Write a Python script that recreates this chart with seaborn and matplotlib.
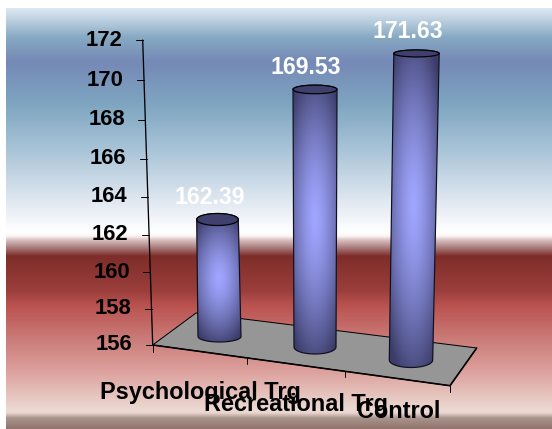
#!/usr/bin/env python3

import numpy as np
import pandas as pd
import seaborn as sns
import matplotlib.pyplot as plt
from matplotlib.colors import to_rgb
from matplotlib.patches import Polygon
from matplotlib.path import Path
from matplotlib.patches import PathPatch

sns.set_theme(style="white")
plt.rcParams["font.family"] = ["Liberation Sans", "DejaVu Sans"]
plt.rcParams["font.weight"] = "bold"

W, H = 552, 429
PX = 72 / 100  # points per pixel at dpi 100

categories = ["Psychological Trg", "Recreational Trg", "Control"]
scores = [162.39, 169.53, 171.63]
y_ticks = [156, 158, 160, 162, 164, 166, 168, 170, 172]

# page gradient, pixel row -> colour
bg_rows = [8, 20, 38, 62, 105, 150, 200, 232, 236, 240, 248, 256, 290, 306, 340, 370, 410, 413, 418, 429]
bg_cols = ["#deeaf4", "#bcd0e0", "#86a8c2", "#7589b6", "#7fa6c1", "#a9c4d8", "#dfe7f0", "#ffffff",
           "#fbf6f6", "#d8c0c0", "#a87878", "#7e2d2a", "#9a3e3b", "#ba5350", "#cb7d7a", "#dc9f9b",
           "#ecdad3", "#e8d4cd", "#a9948c", "#8f736c"]

# per-bar perspective tweaks in pixels (top and bottom of each cylinder)
top_dy = [-8, 0, 6]
top_dx = [-0.5, -0.5, 3.5]
top_hw = [20.8, 22, 22.7]
top_ry = [6, 4.3, 3.5]
bot_y = [336.5, 347, 360]
bot_dx = [1.5, -0.5, -2]
bot_hw = [21.5, 21, 21.7]
bot_ry = [5.5, 7, 7.5]
label_xy = [(210, 197), (306, 67), (408, 31)]
cat_xy = [(100, 392), (204, 404), (357, 412)]
tick_fracs = [0.316, 0.648, 1.0]

floor = [(152.7, 345), (196, 313), (476.7, 348), (450, 385.7)]

A, B = 17.94, 0.0703


def fwd(v):
    d = np.asarray(v, dtype=float) - 156
    return A * d + B * d * d


def inv(p):
    p = np.asarray(p, dtype=float)
    return 156 + (-A + np.sqrt(np.maximum(A * A + 4 * B * p, 0))) / (2 * B)


fig = plt.figure(figsize=(W / 100, H / 100), dpi=100, facecolor="white")
bg = fig.add_axes([0, 0, 1, 1])
bg.set_xlim(0, W)
bg.set_ylim(H, 0)
bg.axis("off")

rows = np.arange(8, H) + 0.5
rgb = np.array([to_rgb(c) for c in bg_cols])
grad = np.stack([np.interp(rows, bg_rows, rgb[:, i]) for i in range(3)], axis=1)[:, None, :]
bg.imshow(grad, extent=(6, W, H, 8), aspect="auto", interpolation="nearest", zorder=0)
bg.set_xlim(0, W)
bg.set_ylim(H, 0)

# chart axes: only the scales are kept, the marks get redrawn as cylinders
ax = fig.add_axes([169.25 / W, 1 - 345 / H, 292.5 / W, 305 / H])
df = pd.DataFrame({"group": categories, "score": scores})
sns.barplot(data=df, x="group", y="score", width=0.43, ax=ax, color="#8888dd")
ax.set_yscale("function", functions=(fwd, inv))
ax.set_ylim(156, 172)
ax.set_xlim(-0.5, 2.5)
ax.patch.set_alpha(0)
ax.axis("off")


def to_px(x, y):
    d = ax.transData.transform((x, y))
    return bg.transData.inverted().transform(d)


bg.add_patch(Polygon(floor, closed=True, fc="#969696", ec="black", lw=1.0 * PX, zorder=1))
bg.plot([floor[0][0], floor[3][0], floor[2][0]], [floor[0][1], floor[3][1], floor[2][1]],
        color="black", lw=1.6 * PX, zorder=1.5)

# y axis, slanted
ax_x = lambda py: 142.7 + (py - 40) / 305 * 10
bg.plot([ax_x(40), ax_x(345)], [40, 345], color="black", lw=1.3 * PX, zorder=2)
bg.plot([ax_x(345), ax_x(345)], [345, 352], color="black", lw=1.0 * PX, zorder=2)
for t in y_ticks:
    py = to_px(0, t)[1]
    bg.plot([ax_x(py) - 7, ax_x(py)], [py, py], color="black", lw=1.0 * PX, zorder=2)
    bg.text(ax_x(py) - 20.5, py, str(t), ha="right", va="center", color="black",
            fontsize=22 * PX, fontweight="bold", zorder=6)

# category ticks on the floor's front edge
for f in tick_fracs:
    tx = floor[0][0] + f * (floor[3][0] - floor[0][0])
    ty = floor[0][1] + f * (floor[3][1] - floor[0][1])
    bg.plot([tx, tx], [ty, ty + 6], color="black", lw=1.0 * PX, zorder=2)

light = np.array(to_rgb("#a0a6ff"))
dark = np.array(to_rgb("#3b3c68"))

for i, bar in enumerate(ax.patches):
    val = bar.get_height()
    cx = bar.get_x() + bar.get_width() / 2
    bar.set_visible(False)
    px_c, px_top = to_px(cx, val)
    tx, ty = px_c + top_dx[i], px_top + top_dy[i]
    bx, by = px_c + bot_dx[i], bot_y[i]

    th = np.linspace(0, np.pi, 40)
    # outline: bottom arc left to right, back arc over the top
    lower = np.column_stack([bx - bot_hw[i] * np.cos(th), by + bot_ry[i] * np.sin(th)])
    upper = np.column_stack([tx + top_hw[i] * np.cos(th), ty + top_ry[i] * np.sin(-th)])
    outline = np.vstack([lower, upper, lower[:1]])
    path = Path(outline)

    x0, x1 = min(tx - top_hw[i], bx - bot_hw[i]) - 1, max(tx + top_hw[i], bx + bot_hw[i]) + 1
    y0, y1 = ty - top_ry[i] - 1, by + bot_ry[i] + 1
    gx, gy = np.meshgrid(np.arange(x0, x1, 0.5), np.arange(y0, y1, 0.5))
    mx, my = (tx + bx) / 2, (ty + by) / 2
    hw, hh = (top_hw[i] + bot_hw[i]) / 2, (by - ty) / 2
    t = np.clip(np.sqrt(0.4 * ((gx - mx) / hw) ** 2 + ((gy - my) / (1.2 * hh)) ** 2), 0, 1)[..., None] ** 1.4
    shade = light * (1 - t) + dark * t
    im = bg.imshow(shade, extent=(x0, x1, y1, y0), aspect="auto", interpolation="bilinear", zorder=3)
    im.set_clip_path(PathPatch(path, transform=bg.transData))
    bg.add_patch(PathPatch(path, fc="none", ec="#101020", lw=1.2 * PX, zorder=3.5))

    theta = np.linspace(0, 2 * np.pi, 80)
    lid = np.column_stack([tx + top_hw[i] * np.cos(theta), ty + top_ry[i] * np.sin(theta)])
    bg.add_patch(Polygon(lid, closed=True, fc="#3f406e", ec="black", lw=1.2 * PX, zorder=4))

    bg.text(label_xy[i][0], label_xy[i][1], f"{val:.2f}", ha="center", va="center", color="white",
            fontsize=23 * PX, fontweight="bold", zorder=6)
    bg.text(cat_xy[i][0], cat_xy[i][1], categories[i], ha="left", va="center", color="black",
            fontsize=23.5 * PX, fontweight="bold", zorder=6)

bg.set_xlim(0, W)
bg.set_ylim(H, 0)
fig.savefig("out.png", dpi=100)
